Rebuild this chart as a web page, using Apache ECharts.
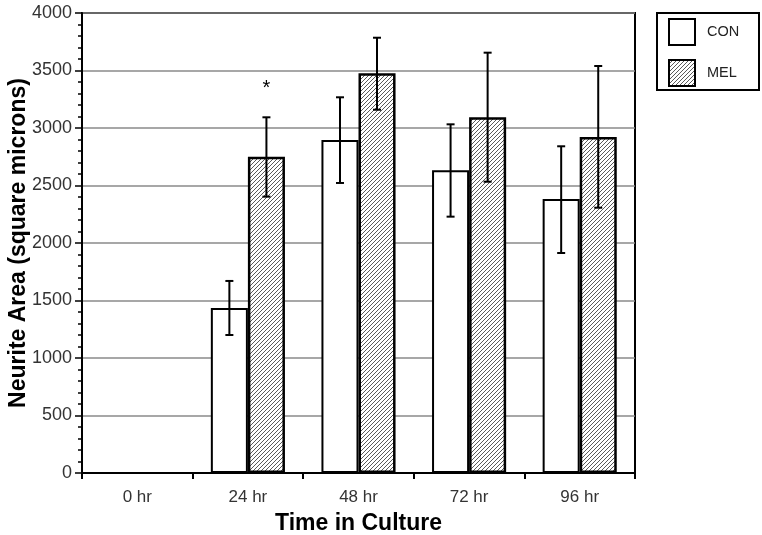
<!DOCTYPE html>
<html>
<head>
<meta charset="utf-8">
<script src="https://cdn.jsdelivr.net/npm/echarts@6/dist/echarts.min.js"></script>
<style>
  html, body { margin: 0; padding: 0; background: #fff; }
  #chart { width: 762px; height: 535px; }
</style>
</head>
<body>
<div id="chart"></div>
<script>
// data
const categories = ['0 hr', '24 hr', '48 hr', '72 hr', '96 hr'];
const conMean = [null, 1435, 2895, 2632, 2383];
const conLow = [null, 1200, 2522, 2229, 1913];
const conHigh = [null, 1670, 3267, 3032, 2841];
const melMean = [null, 2751, 3476, 3093, 2922];
const melLow = [null, 2403, 3159, 2533, 2307];
const melHigh = [null, 3093, 3785, 3655, 3539];
// significance marker (category index, y value)
const starMarks = [[1, 3345]];

const font = "'Liberation Sans', Arial, Helvetica, sans-serif";

// diagonal hatch for MEL bars
function hatch() {
  const c = document.createElement('canvas');
  c.width = c.height = 8;
  const g = c.getContext('2d');
  g.fillStyle = '#fff';
  g.fillRect(0, 0, 8, 8);
  g.strokeStyle = '#5a5a5a';
  g.lineWidth = 1;
  for (let k = -8; k <= 16; k += 4) {
    g.beginPath();
    g.moveTo(k, 8);
    g.lineTo(k + 8, 0);
    g.stroke();
  }
  return c;
}

function errData(low, high) {
  const out = [];
  low.forEach((v, i) => {
    if (v != null) out.push([i, v, high[i]]);
  });
  return out;
}

// bar half-width as part of category band (barCategoryGap 33%, two bars)
const HALF = 0.1675;

function errorBar(sign) {
  return function (params, api) {
    const i = api.value(0);
    const bw = api.size([1, 0])[0];
    const top = api.coord([i, api.value(2)]);
    const bot = api.coord([i, api.value(1)]);
    const x = top[0] + sign * bw * HALF;
    const cap = 4;
    const style = { stroke: '#000', lineWidth: 2 };
    return {
      type: 'group',
      children: [
        { type: 'line', shape: { x1: x, y1: top[1], x2: x, y2: bot[1] }, style },
        { type: 'line', shape: { x1: x - cap, y1: top[1], x2: x + cap, y2: top[1] }, style },
        { type: 'line', shape: { x1: x - cap, y1: bot[1], x2: x + cap, y2: bot[1] }, style }
      ]
    };
  };
}

const chart = echarts.init(document.getElementById('chart'));
const pattern = { image: hatch(), repeat: 'repeat' };

chart.setOption({
  animation: false,
  textStyle: { fontFamily: font },
  grid: {
    left: 82, right: 127, top: 13, bottom: 62,
    outerBoundsMode: 'none',
    containLabel: false,
    show: true, borderColor: '#000', borderWidth: 2
  },
  graphic: [{
    type: 'rect',
    left: 656, top: 12,
    shape: { width: 102, height: 77 },
    style: { fill: '#fff', stroke: '#000', lineWidth: 2 },
    z: 0
  }],
  legend: {
    orient: 'vertical',
    left: 663, top: 13,
    itemWidth: 26, itemHeight: 26, itemGap: 13,
    icon: 'rect',
    textStyle: { fontSize: 14.5, color: '#222', fontFamily: font, padding: [0, 0, 0, 7] },
    data: ['CON', 'MEL'],
    z: 5
  },
  xAxis: {
    type: 'category',
    data: categories,
    name: 'Time in Culture',
    nameLocation: 'middle',
    nameGap: 39,
    nameMoveOverlap: false,
    nameTextStyle: { fontSize: 23, fontWeight: 'bold', color: '#000', fontFamily: font },
    axisLine: { lineStyle: { color: '#000', width: 2 } },
    axisTick: { show: true, length: 6, lineStyle: { color: '#000', width: 2 } },
    axisLabel: { fontSize: 17, color: '#333', margin: 16, fontFamily: font },
    splitLine: { show: false }
  },
  yAxis: {
    type: 'value',
    min: 0, max: 4000, interval: 500,
    name: 'Neurite Area (square microns)',
    nameLocation: 'middle',
    nameGap: 52,
    nameMoveOverlap: false,
    nameTextStyle: { fontSize: 23, fontWeight: 'bold', color: '#000', fontFamily: font },
    axisLine: { show: true, lineStyle: { color: '#000', width: 2 } },
    axisTick: { show: true, length: 7, lineStyle: { color: '#000', width: 1.5 } },
    minorTick: { show: true, splitNumber: 5, length: 4, lineStyle: { color: '#000', width: 1.5 } },
    axisLabel: { fontSize: 18, color: '#333', margin: 10, fontFamily: font, formatter: v => String(v) },
    splitLine: { show: true, lineStyle: { color: '#8a8a8a', width: 1.5 } }
  },
  series: [
    {
      name: 'CON',
      type: 'bar',
      data: conMean,
      barGap: 0,
      barCategoryGap: '33%',
      itemStyle: { color: '#fff', borderColor: '#000', borderWidth: 2 }
    },
    {
      name: 'MEL',
      type: 'bar',
      data: melMean,
      barGap: 0,
      barCategoryGap: '33%',
      itemStyle: { color: pattern, borderColor: '#000', borderWidth: 2.5 }
    },
    {
      type: 'custom',
      renderItem: errorBar(-1),
      data: errData(conLow, conHigh),
      encode: { x: 0, y: [1, 2] },
      z: 10
    },
    {
      type: 'custom',
      renderItem: errorBar(1),
      data: errData(melLow, melHigh),
      encode: { x: 0, y: [1, 2] },
      z: 10
    },
    {
      type: 'custom',
      data: starMarks,
      encode: { x: 0, y: 1 },
      renderItem: function (params, api) {
        const p = api.coord([api.value(0), api.value(1)]);
        const bw = api.size([1, 0])[0];
        return {
          type: 'text',
          x: p[0] + bw * HALF,
          y: p[1],
          style: { text: '*', fontSize: 20, fontFamily: font, fill: '#000', align: 'center', verticalAlign: 'middle' }
        };
      },
      z: 10
    }
  ]
});
</script>
</body>
</html>
